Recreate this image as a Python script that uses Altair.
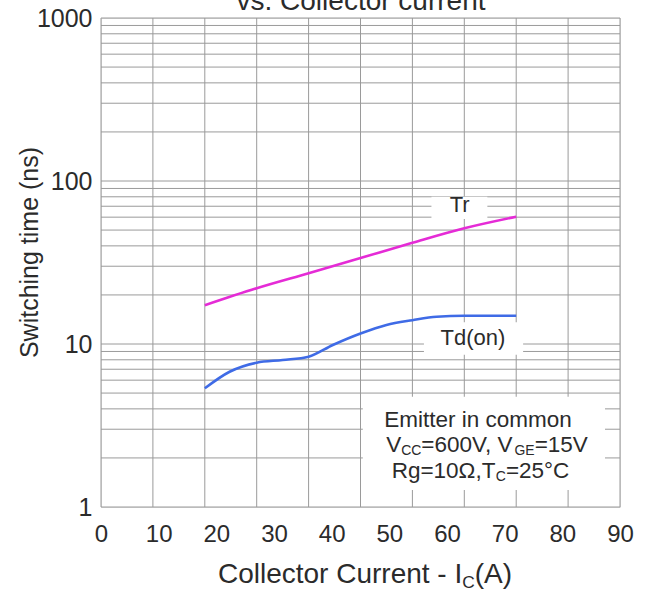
import altair as alt
import pandas as pd

# Switching time vs collector current (log scale)
ic_tr = [18, 27, 36, 45, 54, 63, 72]
tr_ns = [17.3, 22.0, 27.2, 33.7, 41.8, 51.3, 60.4]
ic_td = [18, 22.3, 27, 31.5, 36, 40.2, 45, 49.5, 54, 58.2, 63, 72]
td_ns = [5.35, 6.76, 7.68, 7.98, 8.36, 9.86, 11.6, 13.1, 14.0, 14.7, 14.9, 14.9]

x_ticks = [0, 10, 20, 30, 40, 50, 60, 70, 80, 90]
x_grid = [0, 9, 18, 27, 36, 45, 54, 63, 72, 81, 90]
y_ticks = [1, 10, 100, 1000]
y_grid = [m * 10 ** e for e in range(3) for m in range(1, 10)] + [1000]

series_names = ["Tr", "Td(on)"]
series_colors = ["#E52BD6", "#3F6BE6"]

FONT = "Liberation Sans"
TXT = "#2b2b2b"
GRID = "#9a9a9a"
W, H = 519, 489

lines = pd.DataFrame(
    {"ic": ic_tr + ic_td,
     "ns": tr_ns + td_ns,
     "series": ["Tr"] * len(ic_tr) + ["Td(on)"] * len(ic_td)}
)

XS = alt.Scale(domain=[0, 90], nice=False, zero=False)
YS = alt.Scale(type="log", domain=[1, 1000], nice=False)
XA = alt.Axis(values=x_ticks, grid=False, ticks=False, domain=False,
              labelFontSize=24, labelFont=FONT, labelColor=TXT,
              labelPadding=15, labelFlush=False, labelOverlap=False, title=None)
YA = alt.Axis(values=y_ticks, format="d", grid=False, ticks=False, domain=False,
              labelFontSize=25, labelFont=FONT, labelColor=TXT, labelPadding=9,
              labelFlush=False,
              title="Switching time (ns)", titleFont=FONT, titleFontSize=25,
              titleFontWeight="normal", titleColor=TXT, titleX=-72, titleY=234,
              titleAngle=270, titleAlign="center", titleBaseline="middle")

vgrid = alt.Chart(pd.DataFrame({"gx": x_grid})).mark_rule(
    color=GRID, strokeWidth=1).encode(x=alt.X("gx:Q", scale=XS, axis=XA))
hgrid = alt.Chart(pd.DataFrame({"gy": y_grid})).mark_rule(
    color=GRID, strokeWidth=1).encode(y=alt.Y("gy:Q", scale=YS, axis=YA))

# white backgrounds behind the in-plot labels
boxes = pd.DataFrame({
    "x1": [57.3, 56.0, 45.4],
    "x2": [67.0, 73.2, 87.4],
    "y1": [80.0, 13.6, 4.75],
    "y2": [58.5, 8.6, 1.27],
})
label_bg = alt.Chart(boxes).mark_rect(color="white").encode(
    x=alt.X("x1:Q", scale=XS, axis=XA), x2="x2:Q",
    y=alt.Y("y1:Q", scale=YS, axis=YA), y2="y2:Q")

curves = alt.Chart(lines).mark_line(strokeWidth=2.6, interpolate="monotone").encode(
    x=alt.X("ic:Q", scale=XS, axis=XA),
    y=alt.Y("ns:Q", scale=YS, axis=YA),
    color=alt.Color("series:N", scale=alt.Scale(domain=series_names, range=series_colors),
                    legend=None),
    detail="series:N",
)

curve_labels = alt.Chart(pd.DataFrame({
    "lx": [62.2, 64.5], "ly": [71.0, 10.9], "txt": series_names})).mark_text(
    font=FONT, fontSize=22, color=TXT, align="center", baseline="middle").encode(
    x=alt.X("lx:Q", scale=XS, axis=XA), y=alt.Y("ly:Q", scale=YS, axis=YA), text="txt:N")

# Arial / Liberation Sans advance widths (1/1000 em)
ADV = {" ": 278, "(": 333, ")": 333, ",": 278, "-": 333, ".": 278, "=": 584,
       "°": 400, "Ω": 768, "A": 667, "C": 722, "E": 667, "G": 778, "I": 278,
       "R": 722, "T": 611, "V": 667, "c": 500, "e": 556, "g": 556, "i": 222,
       "l": 222, "m": 833, "n": 556, "o": 556, "r": 333, "s": 500, "t": 278,
       "u": 556, "h": 556, "w": 722}


def run_width(s, size):
    return sum(ADV.get(ch, 556) for ch in s) / 1000.0 * size


def rich_text(pieces, cx, cy, size, sub=0.62):
    """Draw a line made of normal and subscript runs, centred at (cx, cy)."""
    sizes = [size * sub if is_sub else size for _, is_sub in pieces]
    widths = [run_width(t, s) for (t, _), s in zip(pieces, sizes)]
    x = cx - sum(widths) / 2.0
    out = []
    for (t, is_sub), s, w in zip(pieces, sizes, widths):
        out.append(
            alt.Chart(alt.Data(values=[{}])).mark_text(
                text=t, font=FONT, fontSize=s, color=TXT, align="left",
                baseline="middle", dy=size * 0.27 if is_sub else 0)
            .encode(x=alt.value(x), y=alt.value(cy)))
        x += w
    return out


note = []
note += rich_text([("Emitter in common", False)], 377, 402, 22.5)
note += rich_text([("V", False), ("CC", True), ("=600V, V", False), ("GE", True),
                   ("=15V", False)], 386, 427, 22.5)
note += rich_text([("Rg=10Ω,T", False), ("C", True), ("=25°C", False)], 379.5, 453, 22.5)

xtitle = rich_text([("Collector Current - I", False), ("C", True), ("(A)", False)],
                   264, 557, 28)

head = alt.Chart(alt.Data(values=[{}])).mark_text(
    text="vs. Collector current", font=FONT, fontSize=28, color=TXT,
    align="center", baseline="alphabetic").encode(x=alt.value(260), y=alt.value(-8))

chart = alt.layer(
    vgrid, hgrid, label_bg, curves, curve_labels, *note, *xtitle, head
).properties(
    width=W, height=H,
    autosize=alt.AutoSizeParams(type="none"),
    padding={"left": 101, "top": 18, "right": 26, "bottom": 85},
).configure_view(stroke="#8a8a8a", strokeWidth=1).configure(background="white")

chart.save("out.html", embed_options={"renderer": "svg", "actions": False})
